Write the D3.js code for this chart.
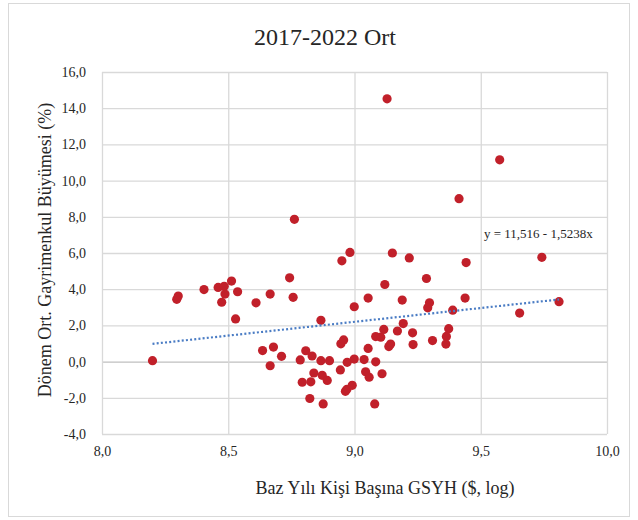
<!DOCTYPE html>
<html>
<head>
<meta charset="utf-8">
<script src="https://cdn.jsdelivr.net/npm/d3@7"></script>
<style>
  body { margin: 0; background: #fff; }
  svg { display: block; font-family: "Liberation Serif", "DejaVu Serif", serif; }
</style>
</head>
<body>
<script>
'use strict';

// chart data
const title = "2017-2022 Ort";
const xTitle = "Baz Yılı Kişi Başına GSYH ($, log)";
const yTitle = "Dönem Ort. Gayrimenkul Büyümesi (%)";
const equationLabel = "y = 11,516 - 1,5238x";

const xTicks = [8.0, 8.5, 9.0, 9.5, 10.0];
const yTicks = [-4, -2, 0, 2, 4, 6, 8, 10, 12, 14, 16];

// log GDP per capita of the base year
const gdpLog = [
  8.200, 8.296, 8.302, 8.404, 8.460, 8.484, 8.513, 8.487, 8.537, 8.474,
  8.529, 8.610, 8.666, 8.743, 8.757, 8.762, 8.636, 8.679, 8.711, 8.666,
  8.785, 8.807, 8.832, 8.867, 8.901, 8.839, 8.872, 8.892, 8.793, 8.827,
  8.823, 8.876, 8.867, 8.944, 8.964, 8.970, 8.991, 8.971, 8.999, 9.038,
  9.084, 9.044, 9.058, 9.109, 9.080, 8.946, 8.957, 9.054, 9.084, 9.104,
  9.116, 9.136, 9.143, 9.170, 9.193, 9.230, 9.232, 8.999, 9.054, 9.120,
  9.189, 8.950, 8.982, 9.150, 9.217, 9.129, 9.285, 9.297, 9.290, 9.309,
  9.373, 9.364, 9.362, 9.389, 9.438, 9.442, 9.414, 9.575, 9.742, 9.654,
  9.810
];

// average real estate growth over the period (%)
const growth = [
  0.05, 3.44, 3.62, 3.98, 4.10, 4.16, 4.45, 3.73, 3.86, 3.28,
  2.36, 3.25, 3.73, 4.63, 3.55, 7.86, 0.61, 0.80, 0.29, -0.23,
  0.09, 0.60, 0.31, 0.05, 0.05, -0.63, -0.76, -1.04, -1.14, -1.12,
  -2.04, -2.34, 2.28, -0.46, -1.64, -1.53, -1.31, -0.04, 0.14, 0.11,
  -0.01, -0.56, -0.86, -0.67, -2.34, 0.98, 1.20, 0.73, 1.38, 1.35,
  1.78, 0.83, 0.97, 1.69, 2.10, 1.59, 0.94, 3.03, 3.51, 4.26,
  3.40, 5.57, 6.03, 6.00, 5.73, 14.52, 4.59, 3.25, 2.97, 1.16,
  1.82, 1.39, 0.97, 2.84, 3.51, 5.47, 9.00, 11.15, 5.76, 2.68,
  3.31
];

// linear trend line (rises with x)
const trendSlope = 1.5238;
const trendIntercept = -11.516;

(function() {
  const width = 638, height = 520;
  const plot = { left: 102, right: 607, top: 72, bottom: 434 };

  const svg = d3.select('body')
    .append('svg')
    .attr('width', width)
    .attr('height', height);

  // outer chart frame
  svg.append('rect')
    .attr('x', 8.5)
    .attr('y', 3.5)
    .attr('width', 621)
    .attr('height', 513)
    .attr('fill', '#fff')
    .attr('stroke', '#d9d9d9');

  // comma decimal, plain hyphen minus
  const locale = d3.formatLocale({ decimal: ",", thousands: ".", grouping: [3], currency: ["", "$"], minus: "-" });
  const fmt = locale.format(".1f");

  const xScale = d3.scaleLinear()
    .domain([8, 10])
    .range([plot.left, plot.right]);

  const yScale = d3.scaleLinear()
    .domain([-4, 16])
    .range([plot.bottom, plot.top]);

  // y axis + horizontal grid
  const yAxis = d3.axisLeft(yScale)
    .tickValues(yTicks)
    .tickFormat(fmt)
    .tickSize(-(plot.right - plot.left))
    .tickPadding(16);

  const gy = svg.append('g')
    .attr('transform', `translate(${plot.left}, 0)`)
    .call(yAxis);
  gy.select('.domain').remove();
  gy.selectAll('.tick line')
    .attr('stroke', (d) => d === 0 ? '#bfbfbf' : '#d9d9d9')
    .attr('stroke-width', 1.3);
  gy.selectAll('.tick text')
    .attr('fill', '#262626')
    .style('font-size', '14px')
    .style('font-family', '"Liberation Serif", serif');

  // x axis + vertical grid
  const xAxis = d3.axisBottom(xScale)
    .tickValues(xTicks)
    .tickFormat(fmt)
    .tickSize(-(plot.bottom - plot.top))
    .tickPadding(12);

  const gx = svg.append('g')
    .attr('transform', `translate(0, ${plot.bottom})`)
    .call(xAxis);
  gx.select('.domain').remove();
  gx.selectAll('.tick line')
    .attr('stroke', '#d9d9d9')
    .attr('stroke-width', 1.3);
  gx.selectAll('.tick text')
    .attr('fill', '#262626')
    .style('font-size', '14px')
    .style('font-family', '"Liberation Serif", serif');

  // points
  const points = gdpLog.map((x, i) => ({ x: x, y: growth[i] }));

  svg.append('g')
    .selectAll('circle')
    .data(points)
    .enter()
    .append('circle')
      .attr('cx', (d) => xScale(d.x))
      .attr('cy', (d) => yScale(d.y))
      .attr('r', 4.6)
      .attr('fill', '#c1202a');

  // dotted trend line from min x to max x
  const xExtent = d3.extent(gdpLog);
  const trend = xExtent.map((x) => ({ x: x, y: trendIntercept + trendSlope * x }));

  svg.append('path')
    .datum(trend)
    .attr('d', d3.line().x((d) => xScale(d.x)).y((d) => yScale(d.y)))
    .attr('fill', 'none')
    .attr('stroke', '#4a7cc4')
    .attr('stroke-width', 2.2)
    .attr('stroke-dasharray', '2,2.2');

  // equation label
  svg.append('text')
    .attr('x', 484)
    .attr('y', 238)
    .attr('fill', '#262626')
    .style('font-size', '13px')
    .text(equationLabel);

  // title and axis titles
  svg.append('text')
    .attr('x', 325)
    .attr('y', 45)
    .attr('text-anchor', 'middle')
    .attr('fill', '#262626')
    .style('font-size', '24px')
    .text(title);

  svg.append('text')
    .attr('x', 385)
    .attr('y', 494)
    .attr('text-anchor', 'middle')
    .attr('fill', '#262626')
    .style('font-size', '18px')
    .text(xTitle);

  svg.append('text')
    .attr('transform', 'translate(51, 250) rotate(-90)')
    .attr('text-anchor', 'middle')
    .attr('fill', '#262626')
    .style('font-size', '18px')
    .text(yTitle);
})();
</script>
</body>
</html>
